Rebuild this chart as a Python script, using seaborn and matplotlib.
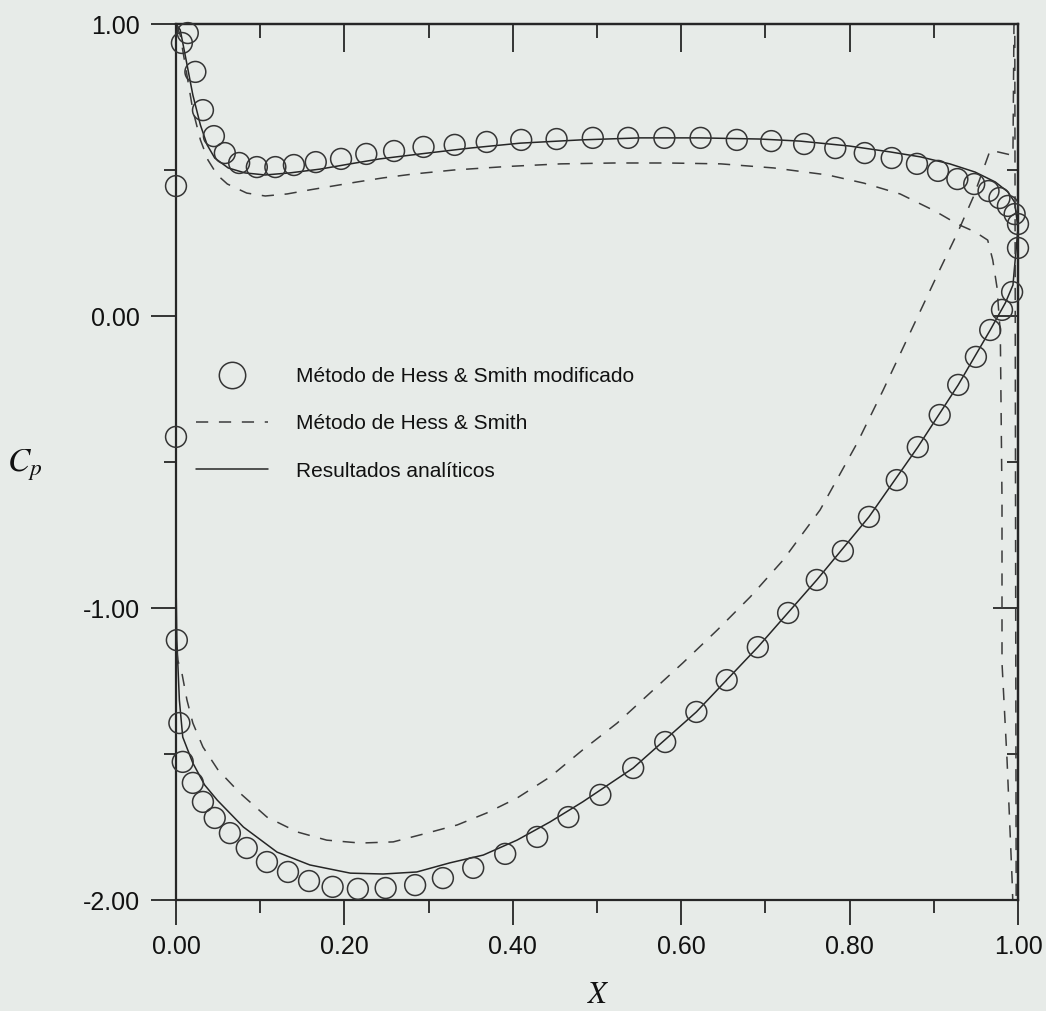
import numpy as np
import pandas as pd
import matplotlib
matplotlib.use("Agg")
import matplotlib.pyplot as plt
from matplotlib.lines import Line2D
import seaborn as sns

# ---------------- data ----------------
mod_up_x = [0.000, 0.007, 0.014, 0.023, 0.032, 0.045, 0.058, 0.075, 0.096, 0.118, 0.140, 0.166, 0.196,
            0.226, 0.259, 0.294, 0.331, 0.369, 0.410, 0.452, 0.495, 0.537, 0.580, 0.623, 0.666, 0.707,
            0.746, 0.783, 0.818, 0.850, 0.880, 0.905, 0.928, 0.948, 0.965, 0.978, 0.988, 0.996, 1.000, 1.000]
mod_up_cp = [0.445, 0.935, 0.969, 0.836, 0.705, 0.616, 0.558, 0.524, 0.510, 0.510, 0.517, 0.527, 0.538,
             0.555, 0.565, 0.579, 0.586, 0.596, 0.603, 0.606, 0.610, 0.610, 0.610, 0.610, 0.603, 0.599,
             0.589, 0.575, 0.558, 0.541, 0.521, 0.497, 0.469, 0.452, 0.428, 0.404, 0.377, 0.349, 0.315, 0.233]

mod_lo_x = [0.000, 0.001, 0.004, 0.008, 0.020, 0.032, 0.046, 0.064, 0.084, 0.108, 0.133, 0.158, 0.186,
            0.216, 0.249, 0.284, 0.317, 0.353, 0.391, 0.429, 0.466, 0.504, 0.543, 0.581, 0.618, 0.654,
            0.691, 0.727, 0.761, 0.792, 0.823, 0.856, 0.881, 0.907, 0.929, 0.950, 0.967, 0.981, 0.993]
mod_lo_cp = [-0.414, -1.110, -1.394, -1.527, -1.599, -1.664, -1.719, -1.771, -1.822, -1.870, -1.904, -1.935,
             -1.955, -1.962, -1.959, -1.949, -1.925, -1.890, -1.842, -1.784, -1.716, -1.640, -1.548, -1.459,
             -1.356, -1.247, -1.134, -1.017, -0.904, -0.805, -0.688, -0.562, -0.449, -0.339, -0.236, -0.140,
             -0.048, 0.021, 0.082]

ana_up_x = [0.000, 0.005, 0.012, 0.020, 0.029, 0.037, 0.046, 0.062, 0.082, 0.106, 0.135, 0.171, 0.207,
            0.242, 0.290, 0.349, 0.409, 0.480, 0.551, 0.622, 0.694, 0.741, 0.800, 0.848, 0.884, 0.919,
            0.949, 0.973, 0.988, 0.996, 1.000]
ana_up_cp = [1.000, 0.980, 0.877, 0.757, 0.654, 0.586, 0.541, 0.507, 0.490, 0.483, 0.490, 0.503, 0.521,
             0.538, 0.555, 0.575, 0.592, 0.603, 0.610, 0.610, 0.606, 0.599, 0.582, 0.562, 0.545, 0.521,
             0.493, 0.459, 0.425, 0.390, 0.300]

ana_lo_x = [0.000, 0.000, 0.001, 0.004, 0.008, 0.020, 0.034, 0.049, 0.080, 0.120, 0.159, 0.207, 0.246,
            0.286, 0.325, 0.365, 0.405, 0.444, 0.483, 0.543, 0.618, 0.691, 0.761, 0.823, 0.881, 0.929,
            0.967, 0.985, 0.994, 1.000]
ana_lo_cp = [1.000, -0.904, -1.110, -1.315, -1.442, -1.531, -1.606, -1.658, -1.750, -1.836, -1.880, -1.908,
             -1.911, -1.904, -1.873, -1.846, -1.795, -1.733, -1.664, -1.548, -1.356, -1.134, -0.904, -0.688,
             -0.449, -0.236, -0.048, 0.045, 0.106, 0.300]

hs_up_x = [0.000, 0.005, 0.012, 0.020, 0.029, 0.038, 0.049, 0.061, 0.084, 0.106, 0.132, 0.159, 0.186,
           0.215, 0.246, 0.281, 0.330, 0.393, 0.457, 0.520, 0.584, 0.647, 0.710, 0.774, 0.817, 0.860,
           0.901, 0.928, 0.949, 0.964, 0.970, 0.975, 0.979, 0.981, 0.981, 0.987, 0.993, 0.996]
hs_up_cp = [1.000, 0.962, 0.842, 0.705, 0.603, 0.534, 0.483, 0.452, 0.421, 0.411, 0.418, 0.432, 0.445,
            0.459, 0.473, 0.486, 0.500, 0.512, 0.521, 0.524, 0.524, 0.521, 0.507, 0.483, 0.455, 0.418,
            0.360, 0.315, 0.288, 0.260, 0.192, 0.099, -0.058, -0.630, -1.188, -1.521, -1.932, -2.200]

hs_lo_x = [0.000, 0.000, 0.002, 0.007, 0.013, 0.020, 0.032, 0.050, 0.076, 0.108, 0.144, 0.179, 0.219,
           0.258, 0.298, 0.334, 0.369, 0.405, 0.444, 0.483, 0.524, 0.563, 0.602, 0.643, 0.682, 0.721,
           0.765, 0.809, 0.840, 0.875, 0.907, 0.928, 0.947, 0.967, 0.994, 0.996, 0.998]
hs_lo_cp = [1.000, -1.110, -1.178, -1.223, -1.315, -1.394, -1.476, -1.555, -1.634, -1.716, -1.767, -1.795,
            -1.805, -1.801, -1.771, -1.743, -1.702, -1.651, -1.579, -1.486, -1.394, -1.291, -1.188, -1.075,
            -0.962, -0.836, -0.664, -0.435, -0.253, -0.038, 0.158, 0.284, 0.408, 0.568, 0.550, 1.300, -2.300]

x_ticks = [0.0, 0.2, 0.4, 0.6, 0.8, 1.0]
x_tick_labels = ["0.00", "0.20", "0.40", "0.60", "0.80", "1.00"]
y_ticks = [-2.0, -1.0, 0.0, 1.0]
y_tick_labels = ["-2.00", "-1.00", "0.00", "1.00"]
x_minor = [0.1, 0.3, 0.5, 0.7, 0.9]
y_minor = [-1.5, -0.5, 0.5]

labels = ["Método de Hess & Smith modificado", "Método de Hess & Smith", "Resultados analíticos"]

# ---------------- build tables ----------------
def path(lo_x, lo_y, up_x, up_y):
    xs = list(lo_x[::-1]) + list(up_x[1:])
    ys = list(lo_y[::-1]) + list(up_y[1:])
    return pd.DataFrame({"x": xs, "cp": ys})

df_mod = pd.DataFrame({"x": mod_up_x + mod_lo_x, "cp": mod_up_cp + mod_lo_cp})
df_ana = path(ana_lo_x, ana_lo_cp, ana_up_x, ana_up_cp)
df_hs = path(hs_lo_x, hs_lo_cp, hs_up_x, hs_up_cp)

# ---------------- style ----------------
BG = "#e7ebe8"
INK = "#262626"
sns.set_theme(style="ticks")
plt.rcParams["font.family"] = ["Liberation Sans", "DejaVu Sans"]
plt.rcParams["mathtext.fontset"] = "stix"

fig = plt.figure(figsize=(10.46, 10.11), dpi=100, facecolor=BG)
ax = fig.add_axes([176 / 1046, 1 - 900 / 1011, 842 / 1046, 876 / 1011])
ax.set_facecolor(BG)

sns.lineplot(data=df_ana, x="x", y="cp", sort=False, estimator=None, ax=ax,
             color=INK, linewidth=1.1, legend=False)
sns.lineplot(data=df_hs, x="x", y="cp", sort=False, estimator=None, ax=ax,
             color="#3c3c3c", linewidth=1.1, dashes=False, legend=False)
ax.lines[-1].set_dashes((8, 7))
sns.scatterplot(data=df_mod, x="x", y="cp", ax=ax, marker="o", s=225,
                facecolors="none", edgecolors="#353535", linewidths=1.1,
                clip_on=False, legend=False, zorder=3)

ax.set_xlim(0, 1)
ax.set_ylim(-2, 1)
ax.set_xlabel("")

for s in ax.spines.values():
    s.set_visible(True)
    s.set_linewidth(1.6)
    s.set_color(INK)

ax.set_xticks(x_ticks)
ax.set_xticklabels(x_tick_labels)
ax.set_xticks(x_minor, minor=True)
ax.set_yticks(y_ticks)
ax.set_yticklabels(y_tick_labels)
ax.set_yticks(y_minor, minor=True)
ax.tick_params(which="major", direction="out", length=18, width=1.3, colors=INK,
               labelsize=18, labelcolor="#111111")
ax.tick_params(axis="x", which="major", pad=7)
ax.tick_params(axis="y", which="major", pad=8)
ax.tick_params(which="minor", direction="out", length=9, width=1.3, colors=INK)

sx = ax.secondary_xaxis("top")
sx.set_xticks(x_ticks)
sx.set_xticks(x_minor, minor=True)
sx.tick_params(which="major", direction="in", length=20, width=1.3, colors=INK, labeltop=False)
sx.tick_params(which="minor", direction="in", length=10, width=1.3, colors=INK)
sx.spines["top"].set_linewidth(1.6)
sx.spines["top"].set_color(INK)

sy = ax.secondary_yaxis("right")
sy.set_yticks(y_ticks)
sy.set_yticks(y_minor, minor=True)
sy.tick_params(which="major", direction="in", length=18, width=1.3, colors=INK, labelright=False)
sy.tick_params(which="minor", direction="in", length=8, width=1.3, colors=INK)
sy.spines["right"].set_linewidth(1.6)
sy.spines["right"].set_color(INK)

fig.text(598 / 1046, 1 - 1003 / 1011, "$X$", fontsize=22, color="#111111",
         ha="center", va="baseline")
ax.set_ylabel("$C_p$", fontsize=24, rotation=0, color="#111111", ha="center", va="center")
ax.yaxis.set_label_coords((25 - 176) / 842, (900 - 465) / 876)

handles = [
    Line2D([], [], marker="o", ls="none", mfc="none", mec="#353535", ms=19, mew=1.1),
    Line2D([], [], color="#3c3c3c", lw=1.1, dashes=(8, 7)),
    Line2D([], [], color=INK, lw=1.1),
]
leg = ax.legend(handles, labels, loc="upper left",
                bbox_to_anchor=((196 - 176) / 842, (900 - 367) / 876),
                frameon=False, fontsize=15, handlelength=3.45, handletextpad=1.35,
                labelspacing=1.36, borderpad=0, borderaxespad=0)
for t in leg.get_texts():
    t.set_color("#111111")

fig.savefig("out.png", dpi=100, facecolor=BG)
